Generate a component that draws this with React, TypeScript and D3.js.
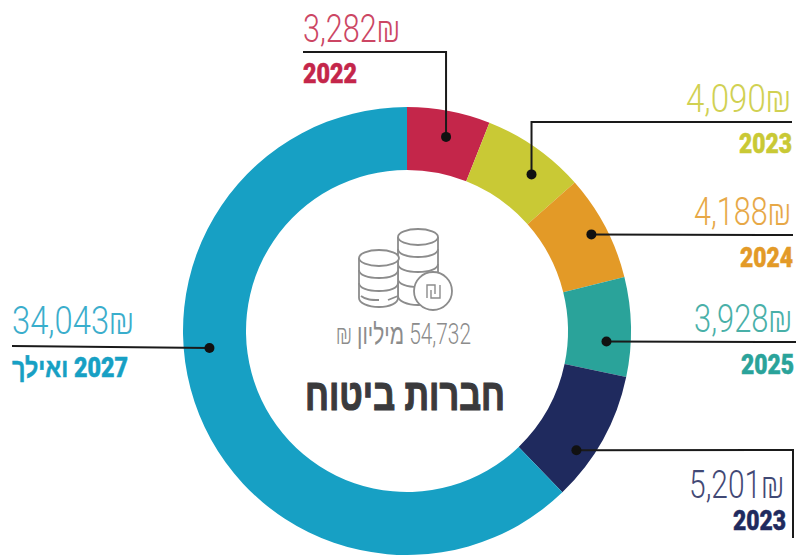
import React, { useLayoutEffect, useRef, useState } from "react";
import * as d3 from "d3";

const years = ["2022", "2023", "2024", "2025", "2023", "2027 ואילך"];
const values = [3282, 4090, 4188, 3928, 5201, 34043];
const valueLabels = ["3,282₪", "4,090₪", "4,188₪", "3,928₪", "5,201₪", "34,043₪"];
const colors = ["#c4264a", "#c9c935", "#e39a27", "#2aa39a", "#1f2a5e", "#17a0c4"];
const totalLabel = "54,732 מיליון ₪";
const title = "חברות ביטוח";

type Box = { x: number; y: number; w: number; anchor: "start" | "end" };
// annotation layout, one entry per slice: offset of the dot from the slice centroid,
// route of its leader, and the boxes of the two labels
const layouts: { dx: number; dy: number; route: number[][]; v: Box; t: Box }[] = [
  { dx: 3, dy: -5, route: [[0, 52], [303, 52]], v: { x: 303, y: 42, w: 97, anchor: "start" }, t: { x: 303, y: 83, w: 54, anchor: "start" } },
  { dx: 14, dy: 1, route: [[0, 122], [792, 122]], v: { x: 791, y: 112, w: 105, anchor: "end" }, t: { x: 792, y: 153, w: 53, anchor: "end" } },
  { dx: 14, dy: -7, route: [[793, 235]], v: { x: 791, y: 225, w: 97, anchor: "end" }, t: { x: 793, y: 267, w: 53, anchor: "end" } },
  { dx: 7, dy: 14, route: [[796, 342]], v: { x: 792, y: 332, w: 98, anchor: "end" }, t: { x: 794, y: 374, w: 53, anchor: "end" } },
  { dx: 1, dy: 26, route: [[793, 450], [793, 538]], v: { x: 784, y: 498, w: 95, anchor: "end" }, t: { x: 786, y: 530, w: 53, anchor: "end" } },
  { dx: -19, dy: -55, route: [[12, 346]], v: { x: 12, y: 334, w: 122, anchor: "start" }, t: { x: 128, y: 377, w: 116, anchor: "end" } },
];

const W = 796, H = 555, CX = 407, CY = 331, R = 224, r = 161, GREY = "#8c8c8c";

// Text squeezed horizontally to the width (the picture uses a condensed face).
function FitText({ x, y, w, anchor, rtl, children, ...rest }: any) {
  const ref = useRef<SVGTextElement>(null);
  const [sx, setSx] = useState(0.7);
  useLayoutEffect(() => {
    if (ref.current) setSx(w / ref.current.getComputedTextLength());
  }, [w]);
  const a = rtl ? (anchor === "end" ? "start" : "end") : anchor;
  return (
    <g transform={`translate(${x},${y}) scale(${sx},1)`}>
      <text ref={ref} textAnchor={a} direction={rtl ? "rtl" : "ltr"} {...rest}>{children}</text>
    </g>
  );
}

export default function App() {
  const pie = d3.pie<number>().sort(null).startAngle(0).endAngle(2 * Math.PI);
  const arcs = pie(values);
  const arc = d3.arc<d3.PieArcDatum<number>>().innerRadius(r).outerRadius(R);
  const numFont = "Roboto, 'Liberation Sans', sans-serif";
  const boldFont = "Roboto, 'Liberation Sans', sans-serif";
  return (
    <svg width={W} height={H} viewBox={`0 0 ${W} ${H}`} style={{ position: "absolute", left: 0, top: 0, background: "#fff" }}>
      <g transform={`translate(${CX},${CY})`}>
        {arcs.map((a, i) => <path key={i} d={arc(a) || ""} fill={colors[i]} />)}
      </g>

      {arcs.map((a, i) => {
        const [cx, cy] = arc.centroid(a);
        const l = layouts[i];
        const px = CX + cx + l.dx, py = CY + cy + l.dy;
        const pts = [[px, py], ...l.route.map(([x, y]) => [x === 0 ? px : x, y])];
        const line = d3.line()(pts as [number, number][]) || "";
        return (
          <g key={i}>
            <path d={line} fill="none" stroke="#1a1a1a" strokeWidth={2} />
            <circle cx={px} cy={py} r={5} fill="#111" />
            <FitText {...l.v} fontFamily={numFont} fontWeight={300} fontSize={39} fill={colors[i]} opacity={0.85}>{valueLabels[i]}</FitText>
            <FitText {...l.t} rtl={i === 5} fontFamily={boldFont} fontWeight={900} fontSize={27} fill={colors[i]} stroke={colors[i]} strokeWidth={0.5}>{years[i]}</FitText>
          </g>
        );
      })}

      {/* coins icon */}
      <g fill="#fff" stroke={GREY} strokeWidth={1.8}>
        <path d="M398,237V296C398,301 407,305 418,305C429,305 438,301 438,296V237" />
        <ellipse cx={418} cy={237} rx={20} ry={8} />
        <path d="M398,249C398,254 407,257 418,257C429,257 438,254 438,249M398,264C398,269 407,272 418,272C429,272 438,269 438,264M398,279C398,284 407,287 418,287" fill="none" />
        <path d="M359,258V298C359,303 368,307 379,307C390,307 398,303 398,298V258" />
        <ellipse cx={379} cy={258} rx={20} ry={8} />
        <path d="M359,270C359,275 368,278 379,278C390,278 398,275 398,270M359,283C359,288 368,291 379,291C390,291 398,288 398,283" fill="none" />
        <path d="M361,296C366,300 372,300 379,300M388,300L398,296" fill="none" />
        <circle cx={433} cy={291} r={19} />
        <path d="M427,298V285H435V294M431,290V298H440V285" fill="none" strokeWidth={1.4} />
      </g>

      <FitText x={471} y={344} w={135} anchor="end" rtl fontFamily={numFont} fontWeight={300} fontSize={29} fill={GREY}>{totalLabel}</FitText>
      <FitText x={505} y={410} w={200} anchor="end" rtl fontFamily="'Liberation Sans',sans-serif" fontWeight={700} fontSize={44} fill="#3a3a3c" stroke="#3a3a3c" strokeWidth={1.2}>{title}</FitText>
    </svg>
  );
}
